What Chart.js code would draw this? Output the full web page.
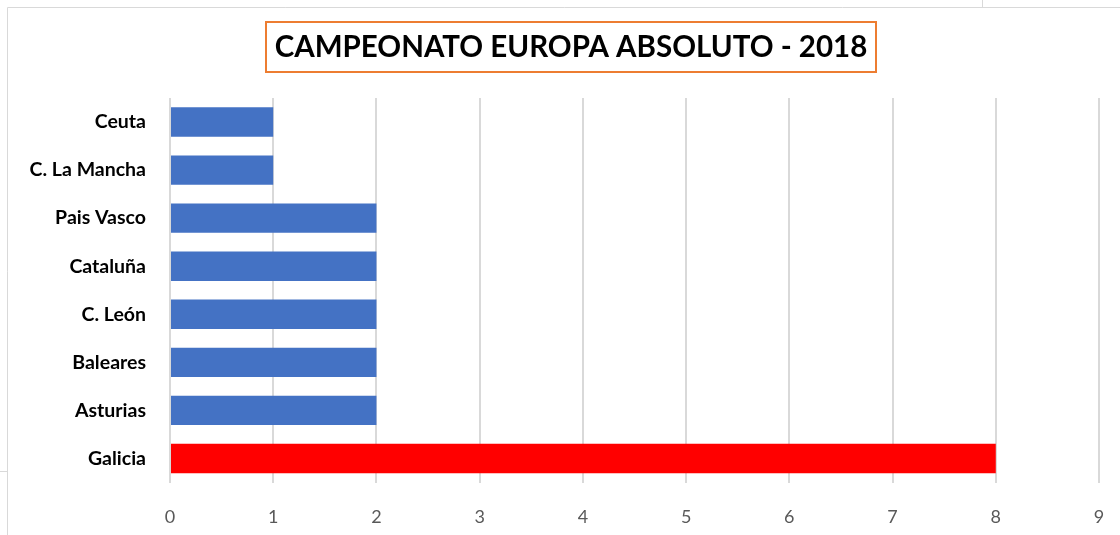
<!DOCTYPE html>
<html>
<head>
<meta charset="utf-8">
<script src="https://cdn.jsdelivr.net/npm/chart.js@4.4.1/dist/chart.umd.min.js"></script>
<style>
  html, body { margin: 0; padding: 0; background: #fff; }
  #wrap { width: 1120px; height: 535px; position: relative; }
</style>
</head>
<body>
<div id="wrap"><canvas id="chart" width="1120" height="535"></canvas></div>
<script>
// Datos del gráfico (de arriba a abajo)
const regiones = ['Ceuta', 'C. La Mancha', 'Pais Vasco', 'Cataluña', 'C. León', 'Baleares', 'Asturias', 'Galicia'];
const medallas = [1, 1, 2, 2, 2, 2, 2, 8];
const coloresBarra = ['#4472C4', '#4472C4', '#4472C4', '#4472C4', '#4472C4', '#4472C4', '#4472C4', '#FF0000'];
const titulo = 'CAMPEONATO EUROPA ABSOLUTO - 2018';
const ejeMin = 0;
const ejeMax = 9;

// Marco gris de la hoja y título con recuadro naranja
const marcoTitulo = {
  id: 'marcoTitulo',
  beforeDraw(chart) {
    const ctx = chart.ctx;
    ctx.save();
    ctx.strokeStyle = '#d9d9d9';
    ctx.lineWidth = 1;
    ctx.beginPath();
    ctx.moveTo(7.5, 540);
    ctx.lineTo(7.5, 7.5);
    ctx.lineTo(1125, 7.5);
    ctx.moveTo(982.5, 0);
    ctx.lineTo(982.5, 7);
    ctx.moveTo(0, 471.5);
    ctx.lineTo(7, 471.5);
    ctx.stroke();
    ctx.restore();
  },
  afterDraw(chart) {
    const ctx = chart.ctx;
    ctx.save();
    ctx.font = 'bold 29.5px Lato';
    ctx.fillStyle = '#000';
    ctx.textAlign = 'center';
    ctx.textBaseline = 'middle';
    ctx.fillText(titulo, 571, 47);
    ctx.strokeStyle = '#ED7D31';
    ctx.lineWidth = 2;
    ctx.strokeRect(266, 22, 610, 50);
    ctx.restore();
  }
};

new Chart(document.getElementById('chart'), {
  type: 'bar',
  data: {
    labels: regiones,
    datasets: [{
      data: medallas,
      backgroundColor: coloresBarra,
      borderWidth: 0,
      categoryPercentage: 1,
      barPercentage: 0.61
    }]
  },
  options: {
    indexAxis: 'y',
    responsive: false,
    animation: false,
    layout: { padding: { top: 98, right: 21, bottom: 0, left: 0 } },
    plugins: {
      legend: { display: false },
      title: { display: false },
      tooltip: { enabled: false }
    },
    scales: {
      x: {
        min: ejeMin,
        max: ejeMax,
        border: { display: false },
        grid: { color: '#d9d9d9', lineWidth: 2, drawTicks: false },
        ticks: {
          stepSize: 1,
          padding: 24,
          color: '#595959',
          font: { family: 'Lato', size: 18 }
        },
        afterFit(scale) {
          scale.height = 52.5;
          scale.paddingRight = 0;
        }
      },
      y: {
        border: { display: false },
        grid: { display: false, drawTicks: false },
        ticks: {
          padding: 24,
          color: '#000',
          font: { family: 'Lato', size: 19.5, weight: 'bold' }
        },
        afterFit(scale) { scale.width = 170; }
      }
    }
  },
  plugins: [marcoTitulo]
});
</script>
</body>
</html>
